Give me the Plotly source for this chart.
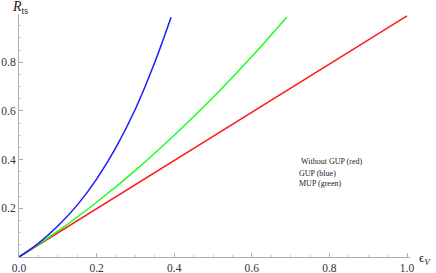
import plotly.graph_objects as go

# values
eps_red = [0.0, 0.25, 0.5, 0.75, 1.0]
rts_red = [0.0, 0.248, 0.495, 0.743, 0.99]

eps_blue = [0.0, 0.05, 0.1, 0.15, 0.2, 0.25, 0.3, 0.35, 0.392]
rts_blue = [0.0, 0.056, 0.127, 0.213, 0.32, 0.45, 0.608, 0.8, 0.985]

eps_green = [0.0, 0.1, 0.2, 0.3, 0.4, 0.5, 0.6, 0.69]
rts_green = [0.0, 0.106, 0.225, 0.356, 0.5, 0.655, 0.823, 0.985]

x_ticks = [0.0, 0.2, 0.4, 0.6, 0.8, 1.0]
y_ticks = [0.2, 0.4, 0.6, 0.8]
legend_lines = ["Without GUP (red)", "GUP (blue)", "MUP (green)"]

SERIF = "Liberation Serif, Times New Roman, serif"

fig = go.Figure()
fig.add_trace(go.Scatter(x=eps_red, y=rts_red, mode="lines",
                         line=dict(color="#ff1a1a", width=1.5)))
fig.add_trace(go.Scatter(x=eps_green, y=rts_green, mode="lines", line_shape="spline",
                         line=dict(color="#1aff1a", width=1.5)))
fig.add_trace(go.Scatter(x=eps_blue, y=rts_blue, mode="lines", line_shape="spline",
                         line=dict(color="#1a1aff", width=1.5)))

axis_font = dict(family=SERIF, size=11.5, color="#333333")
fig.update_layout(
    width=436, height=273,
    margin=dict(l=19, r=26, t=14, b=16, autoexpand=False),
    paper_bgcolor="white", plot_bgcolor="white",
    showlegend=False,
    xaxis=dict(range=[0, 1.0077], showgrid=False, zeroline=False, automargin=False,
               showline=True, linecolor="#b0b0b0", linewidth=1,
               tickvals=x_ticks, tickformat=".1f", ticks="inside", ticklen=4,
               tickcolor="#b0b0b0", tickfont=axis_font,
               minor=dict(ticks="inside", dtick=0.05, ticklen=2, tickcolor="#c8c8c8")),
    yaxis=dict(range=[0, 0.998], showgrid=False, zeroline=False, automargin=False,
               showline=True, linecolor="#b0b0b0", linewidth=1,
               tickvals=y_ticks, tickformat=".1f", ticks="inside", ticklen=4,
               tickcolor="#b0b0b0", tickfont=axis_font,
               minor=dict(ticks="inside", dtick=0.05, ticklen=2, tickcolor="#c8c8c8")),
)

fig.add_annotation(text="<i>R</i><sub>ts</sub>", xref="paper", yref="paper",
                   x=-0.022, y=1.025, xanchor="left", yanchor="middle", showarrow=False,
                   font=dict(family=SERIF, size=14, color="#222222"))
fig.add_annotation(text="ϵ<sub><i>V</i></sub>", xref="paper", yref="paper",
                   x=1.018, y=-0.008, xanchor="left", yanchor="middle", showarrow=False,
                   font=dict(family=SERIF, size=13, color="#222222"))

leg_y = [0.394, 0.345, 0.30]
leg_x = [0.722, 0.716, 0.716]
for txt, lx, ly in zip(legend_lines, leg_x, leg_y):
    fig.add_annotation(text=txt, xref="x", yref="y", x=lx, y=ly,
                       xanchor="left", yanchor="middle", showarrow=False,
                       font=dict(family=SERIF, size=8, color="#222222"))

fig.write_html("out.html", config={"displayModeBar": False},
               post_script="document.body.style.margin='0';document.body.style.overflow='hidden';")
